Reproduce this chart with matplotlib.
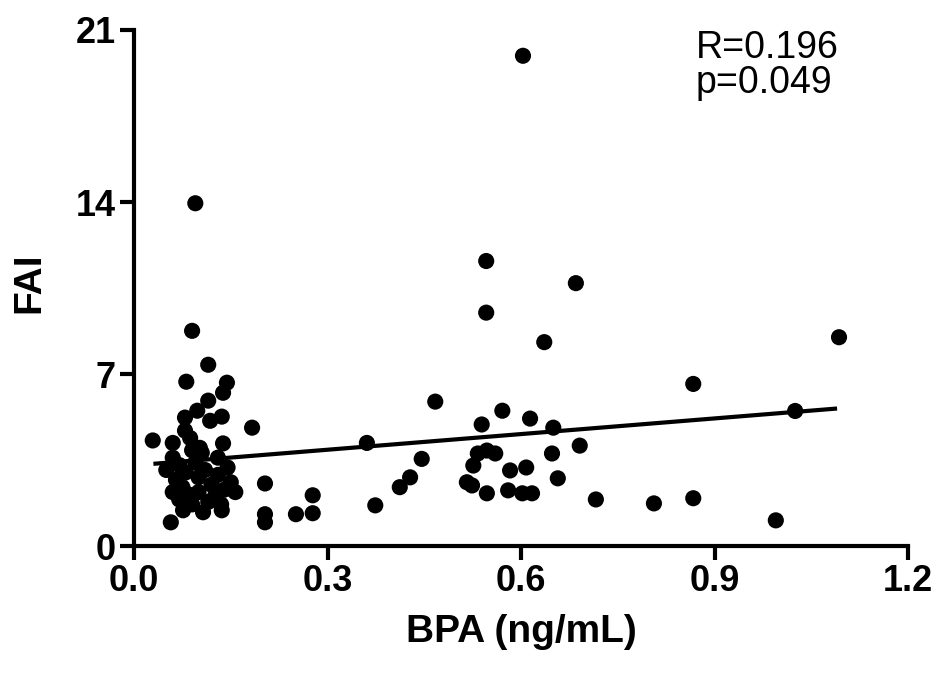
import matplotlib
matplotlib.use("Agg")
import matplotlib.pyplot as plt

# Data
bpa = [
    0.603, 0.095, 0.090, 0.115, 0.081, 0.144, 0.138, 0.115, 0.098, 0.079,
    0.136, 0.118, 0.183, 0.029, 0.060, 0.079, 0.087, 0.102, 0.138, 0.203,
    0.203, 0.203, 0.057,
    # dense cluster
    0.070, 0.080, 0.065, 0.075, 0.085, 0.070, 0.090, 0.060, 0.095, 0.100,
    0.110, 0.120, 0.130, 0.140, 0.125, 0.115, 0.135, 0.145, 0.150, 0.100,
    0.105, 0.090, 0.130, 0.157, 0.076, 0.107, 0.136, 0.050, 0.060,
    # mid range
    0.251, 0.277, 0.277, 0.374, 0.412, 0.428, 0.446, 0.361,
    0.467, 0.571, 0.614, 0.539, 0.650, 0.867, 0.533, 0.547, 0.560, 0.526,
    0.516, 0.524, 0.547, 0.583, 0.608, 0.580, 0.602, 0.617, 0.648, 0.691,
    0.657, 0.716, 0.806, 0.867,
    0.546, 0.546, 0.685, 0.636, 1.093, 1.025, 0.995,
]
fai = [
    19.95, 13.95, 8.76, 7.38, 6.69, 6.65, 6.24, 5.92, 5.51, 5.23,
    5.27, 5.10, 4.82, 4.30, 4.20, 4.70, 4.40, 4.00, 4.18, 2.55,
    1.30, 0.97, 0.97,
    3.30, 3.00, 2.70, 2.40, 2.10, 1.90, 1.70, 3.60, 3.40, 2.80,
    3.10, 2.50, 2.90, 2.30, 2.00, 1.80, 1.70, 3.20, 2.60, 2.20,
    3.80, 3.90, 3.60, 2.20, 1.46, 1.38, 1.46, 3.10, 2.20,
    1.30, 2.07, 1.34, 1.66, 2.40, 2.80, 3.55, 4.20,
    5.88, 5.51, 5.19, 4.95, 4.82, 6.60, 3.77, 3.89, 3.77, 3.28,
    2.60, 2.47, 2.15, 3.08, 3.20, 2.27, 2.15, 2.15, 3.77, 4.09,
    2.76, 1.90, 1.74, 1.95,
    11.60, 9.50, 10.70, 8.30, 8.50, 5.50, 1.05,
]
line_x = [0.030, 1.090]
line_y = [3.35, 5.60]

xticks = [0.0, 0.3, 0.6, 0.9, 1.2]
xtick_labels = ["0.0", "0.3", "0.6", "0.9", "1.2"]
yticks = [0, 7, 14, 21]
ytick_labels = ["0", "7", "14", "21"]
stats_text = "R=0.196\np=0.049"

plt.rcParams['font.family'] = ['Liberation Sans', 'DejaVu Sans']

fig = plt.figure(figsize=(9.4, 6.81), dpi=100)
ax = fig.add_axes([0.1426, 0.198, 0.8234, 0.758])

ax.scatter(bpa, fai, s=135, color='black', edgecolors='none', zorder=3, clip_on=False)
ax.plot(line_x, line_y, color='black', lw=3.0, solid_capstyle='butt', zorder=2)

ax.set_xlim(0, 1.2)
ax.set_ylim(0, 21)
ax.set_xticks(xticks)
ax.set_xticklabels(xtick_labels)
ax.set_yticks(yticks)
ax.set_yticklabels(ytick_labels)

for side in ['top', 'right']:
    ax.spines[side].set_visible(False)
for side in ['left', 'bottom']:
    ax.spines[side].set_linewidth(3.0)
    ax.spines[side].set_capstyle('projecting')

ax.tick_params(axis='both', direction='out', length=10, width=3.0,
               labelsize=26, pad=3)
for lab in ax.get_xticklabels() + ax.get_yticklabels():
    lab.set_fontweight('bold')

ax.set_xlabel("BPA (ng/mL)", fontsize=28, fontweight='bold', va='center')
ax.xaxis.set_label_coords(0.5, -0.167)
ax.set_ylabel("FAI", fontsize=28, fontweight='bold', va='center')
ax.yaxis.set_label_coords(-0.135, 0.51)

ax.text(0.726, 1.0, stats_text, transform=ax.transAxes, fontsize=27,
        va='top', ha='left', linespacing=0.95)

fig.savefig("out.png", dpi=100)
